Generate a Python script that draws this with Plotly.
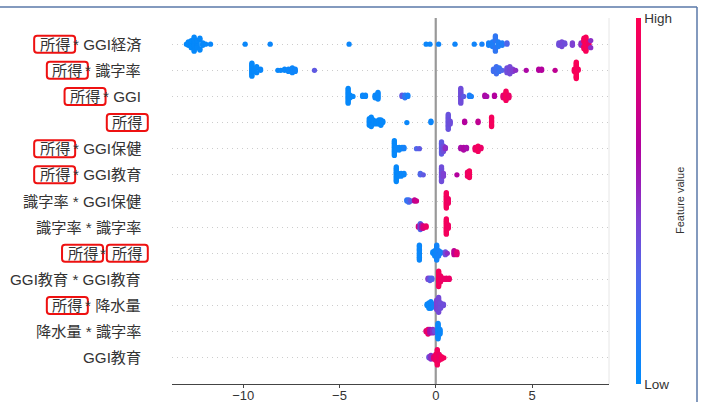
import re
import numpy as np
import plotly.graph_objects as go

# ---------------- data (top row first) ----------------
feature_labels = [
    "所得 * GGI経済", "所得 * 識字率", "所得 * GGI", "所得", "所得 * GGI保健",
    "所得 * GGI教育", "識字率 * GGI保健", "識字率 * 識字率", "所得 * 所得",
    "GGI教育 * GGI教育", "所得 * 降水量", "降水量 * 識字率", "GGI教育",
]

# each entry: (SHAP value, normalised feature value, number of samples)
income_x_ggi_econ = [
    (-12.95, .02, 1), (-12.85, .02, 3), (-12.7, .02, 7), (-12.55, .03, 13), (-12.4, .03, 7),
    (-12.25, .03, 4), (-12.1, .04, 3), (-11.95, .04, 1), (-11.7, .05, 1), (-9.9, .05, 1),
    (-8.6, .06, 1), (-4.5, .06, 1), (-0.5, .06, 1), (-0.3, .06, 1), (0.15, .07, 1),
    (1.0, .07, 1), (2.0, .08, 1), (2.4, .1, 1), (2.75, .1, 3), (2.95, .15, 5),
    (3.1, .2, 9), (3.25, .15, 5), (3.45, .15, 3), (3.7, .3, 2), (6.4, .4, 3),
    (6.55, .42, 5), (6.7, .4, 2), (7.1, .45, 3), (7.55, .5, 3), (7.7, .93, 7),
    (7.8, .97, 13), (7.95, .9, 5), (8.05, .5, 2),
]
income_x_literacy = [
    (-9.55, .03, 12), (-9.45, .03, 3), (-9.3, .04, 3), (-9.1, .05, 2), (-8.2, .05, 1),
    (-8.05, .05, 1), (-7.85, .05, 2), (-7.65, .06, 3), (-7.45, .06, 5), (-7.3, .07, 3),
    (-6.3, .35, 1), (3.0, .25, 3), (3.15, .25, 7), (3.3, .22, 4), (3.45, .3, 1),
    (3.7, .4, 5), (3.85, .42, 7), (4.0, .45, 3), (4.15, .5, 1), (4.7, .62, 1),
    (5.35, .65, 2), (5.5, .65, 2), (6.2, .7, 1), (7.2, .95, 3), (7.3, .97, 12), (7.4, .95, 2),
]
income_x_ggi = [
    (-4.55, .03, 12), (-4.45, .03, 3), (-4.3, .04, 1), (-3.8, .05, 2), (-3.65, .05, 2),
    (-3.15, .05, 3), (-3.0, .05, 6), (-1.75, .35, 2), (-1.6, .2, 3), (-1.45, .1, 2),
    (1.3, .4, 12), (1.45, .35, 1), (1.75, .15, 2), (1.85, .12, 1), (2.55, .62, 2),
    (2.65, .6, 1), (3.05, .65, 2), (3.5, .85, 3), (3.65, .95, 8), (3.8, .9, 3),
]
income = [
    (-3.45, .03, 6), (-3.35, .03, 8), (-3.25, .03, 4), (-3.1, .03, 3), (-2.95, .03, 4),
    (-2.85, .03, 5), (-2.75, .03, 2), (-1.5, .05, 1), (-0.25, .06, 2), (0.65, .38, 12),
    (0.75, .4, 3), (1.5, .65, 2), (2.2, .7, 2), (2.9, .95, 8),
]
income_x_ggi_health = [
    (-2.15, .03, 12), (-2.05, .05, 3), (-1.9, .05, 3), (-1.75, .05, 2), (-1.65, .1, 2),
    (-1.0, .3, 1), (-0.85, .35, 1), (0.3, .35, 10), (0.4, .4, 5), (0.5, .5, 2),
    (1.3, .6, 2), (1.45, .62, 3), (1.6, .6, 2), (2.05, .9, 3), (2.2, .95, 5), (2.35, .9, 2),
]
income_x_ggi_edu = [
    (-2.05, .03, 12), (-1.95, .03, 3), (-1.8, .05, 3), (-1.65, .05, 2), (-0.8, .3, 2),
    (-0.65, .35, 1), (0.3, .4, 12), (0.4, .45, 3), (1.1, .65, 1), (1.65, .9, 4), (1.75, .95, 6),
]
literacy_x_ggi_health = [
    (-1.5, .2, 2), (-1.4, .25, 3), (-1.3, .35, 1), (-1.1, .7, 2), (-1.0, .75, 1),
    (0.55, .95, 14), (0.65, .92, 5),
]
literacy_x_literacy = [
    (-0.9, .8, 2), (-0.8, .3, 6), (-0.75, .55, 4), (-0.65, .8, 3), (-0.5, .9, 2),
    (0.55, .95, 14), (0.65, .93, 4),
]
income_x_income = [
    (-0.85, .05, 12), (-0.15, .05, 2), (-0.05, .06, 5), (0.05, .08, 12), (0.15, .1, 5),
    (0.25, .1, 2), (0.5, .4, 3), (0.6, .5, 1), (0.95, .7, 4), (1.1, .85, 3),
]
ggi_edu_x_ggi_edu = [
    (-0.4, .45, 2), (-0.3, .35, 3), (-0.2, .3, 2), (0.15, .95, 14), (0.25, .92, 6),
    (0.4, .9, 2), (0.55, .9, 2), (0.7, .9, 2),
]
income_x_rain = [
    (-0.45, .05, 2), (-0.35, .05, 5), (-0.25, .05, 6), (-0.1, .1, 3), (0.05, .45, 8),
    (0.15, .42, 12), (0.25, .4, 5), (0.4, .4, 2),
]
rain_x_literacy = [
    (-0.5, .85, 2), (-0.4, .9, 5), (-0.3, .6, 4), (-0.15, .5, 4), (-0.05, .4, 2),
    (0.12, .05, 14), (0.22, .05, 5),
]
ggi_edu = [
    (-0.35, .4, 2), (-0.25, .5, 4), (-0.1, .85, 3), (0.0, .9, 6), (0.08, .95, 14),
    (0.18, .9, 6), (0.3, .95, 3), (0.42, .95, 1),
]
rows = [income_x_ggi_econ, income_x_literacy, income_x_ggi, income, income_x_ggi_health,
        income_x_ggi_edu, literacy_x_ggi_health, literacy_x_literacy, income_x_income,
        ggi_edu_x_ggi_edu, income_x_rain, rain_x_literacy, ggi_edu]

x_ticks = [-10, -5, 0, 5]

# ---------------- layout constants ----------------
W, H = 705, 402
ML, MR, MT, MB = 172, 96, 18, 18
PW, PH = W - ML - MR, H - MT - MB
XR = [-13.7, 9.0]
NROW = len(feature_labels)
TXT = "#333333"
FONT = "Liberation Sans, Arial, Noto Sans CJK JP, sans-serif"

cscale = [[0.0, "#008bfb"], [0.15, "#1f7ef8"], [0.3, "#5066ea"], [0.45, "#7e40d2"],
          [0.55, "#9a1cb8"], [0.65, "#b3009d"], [0.8, "#d8007c"], [1.0, "#ff0051"]]


def beeswarm(vals, nbins=100, row_height=0.4):
    vals = np.asarray(vals, float)
    quant = np.round(nbins * (vals - vals.min()) / (vals.max() - vals.min() + 1e-8))
    inds = np.argsort(quant, kind="stable")
    ys = np.zeros(len(vals))
    layer, last = 0, -1
    for i in inds:
        if quant[i] != last:
            layer = 0
        ys[i] = np.ceil(layer / 2) * ((layer % 2) * 2 - 1)
        layer += 1
        last = quant[i]
    ys *= 0.9 * (row_height / np.max(ys + 1))
    return ys


xs, ys, cs = [], [], []
for k, row in enumerate(rows):
    pos = NROW - 1 - k
    sv = np.repeat([r[0] for r in row], [r[2] for r in row])
    fv = np.repeat([r[1] for r in row], [r[2] for r in row])
    off = beeswarm(sv)
    xs.extend(sv)
    ys.extend(pos + off)
    cs.extend(fv)

fig = go.Figure()
fig.add_trace(go.Scatter(
    x=xs, y=ys, mode="markers", hoverinfo="skip",
    marker=dict(size=5.3, color=cs, colorscale=cscale, cmin=0, cmax=1, line=dict(width=0),
                showscale=True,
                colorbar=dict(thickness=5, thicknessmode="pixels", len=1, lenmode="fraction",
                              x=(636 - ML) / PW, xanchor="left", y=0.5, yanchor="middle",
                              xpad=0, ypad=0, outlinewidth=0,
                              tickvals=[0, 1], ticktext=["Low", "High"], ticks="",
                              tickfont=dict(size=13.5, color=TXT, family=FONT))),
))

shapes = [
    dict(type="line", xref="x", yref="paper", x0=0, x1=0, y0=0, y1=1,
         line=dict(color="#999999", width=2.2), layer="below"),
    dict(type="line", xref="paper", yref="paper", x0=1, x1=1, y0=0, y1=1,
         line=dict(color="#e6e6e6", width=1), layer="below"),
    # outer frame lines of the screenshot
    dict(type="line", xref="paper", yref="paper", x0=(0 - ML) / PW, x1=(697 - ML) / PW,
         y0=(H - MB - 7) / PH, y1=(H - MB - 7) / PH, line=dict(color="#5a78a8", width=1.5)),
    dict(type="line", xref="paper", yref="paper", x0=(697 - ML) / PW, x1=(697 - ML) / PW,
         y0=(H - MB - 7) / PH, y1=-MB / PH, line=dict(color="#5a78a8", width=1.5)),
]

# ---------------- y labels with red boxes round 所得 ----------------
FS = 15.2
CW = {"G": .778, "I": .278, "*": .389, " ": .278}


def tw(s):
    return sum((1.0 if ord(ch) > 0x2E80 else CW.get(ch, .6)) * FS for ch in s)


RIGHT = 142.5
annotations = [
    dict(text="Feature value", xref="paper", yref="paper", x=(680 - ML) / PW, y=0.5,
         xanchor="center", yanchor="middle", textangle=-90, showarrow=False,
         font=dict(size=11, color=TXT, family=FONT)),
]
for k, lab in enumerate(feature_labels):
    pos = NROW - 1 - k
    left = RIGHT - tw(lab)
    cursor = left
    for run in re.split(r"(所得)", lab):
        if not run:
            continue
        x0 = cursor
        x1 = cursor + tw(run)
        cursor = x1
        if run == "所得":
            cx = (x0 + x1) / 2
            annotations.append(dict(text=run, xref="paper", yref="y", x=0, y=pos,
                                    xshift=cx - ML, xanchor="center", yanchor="middle",
                                    showarrow=False, font=dict(size=FS, color=TXT, family=FONT)))
            bx0, bx1 = (cx - 20.5 - ML) / PW, (cx + 20.5 - ML) / PW
            yc = (pos + 1) / (NROW + 1)
            by0, by1 = yc - 8.5 / PH, yc + 8.5 / PH
            rx, ry = 3 / PW, 3 / PH
            path = (f"M{bx0+rx},{by0} L{bx1-rx},{by0} Q{bx1},{by0} {bx1},{by0+ry} "
                    f"L{bx1},{by1-ry} Q{bx1},{by1} {bx1-rx},{by1} L{bx0+rx},{by1} "
                    f"Q{bx0},{by1} {bx0},{by1-ry} L{bx0},{by0+ry} Q{bx0},{by0} {bx0+rx},{by0} Z")
            shapes.append(dict(type="path", xref="paper", yref="paper", path=path,
                               line=dict(color="#ee1111", width=2)))
        else:
            stripped = run.rstrip()
            xe = x0 + tw(stripped)
            annotations.append(dict(text=stripped.strip(), xref="paper", yref="y", x=0, y=pos,
                                    xshift=xe - ML, xanchor="right", yanchor="middle",
                                    showarrow=False, font=dict(size=FS, color=TXT, family=FONT)))

fig.update_layout(
    width=W, height=H, autosize=False,
    margin=dict(l=ML, r=MR, t=MT, b=MB, autoexpand=False),
    paper_bgcolor="white", plot_bgcolor="white",
    showlegend=False,
    font=dict(family=FONT, color=TXT),
    xaxis=dict(range=XR, tickvals=x_ticks, ticktext=[("−" + str(-v)) if v < 0 else str(v) for v in x_ticks],
               showgrid=False, zeroline=False, showline=True, linecolor="#444444", linewidth=1,
               ticks="outside", ticklen=3, tickcolor="#444444", ticklabelstandoff=-4,
               tickfont=dict(size=13, color=TXT, family=FONT)),
    yaxis=dict(range=[-1, NROW], tickvals=list(range(NROW)), showticklabels=False,
               showgrid=True, gridcolor="#cccccc", gridwidth=1, griddash="1px,4px",
               zeroline=False, showline=False, ticks=""),
    shapes=shapes,
    annotations=annotations,
)

fig.write_html("out.html", config={"displayModeBar": False},
               post_script="document.body.style.margin='0';document.body.style.overflow='hidden';")
